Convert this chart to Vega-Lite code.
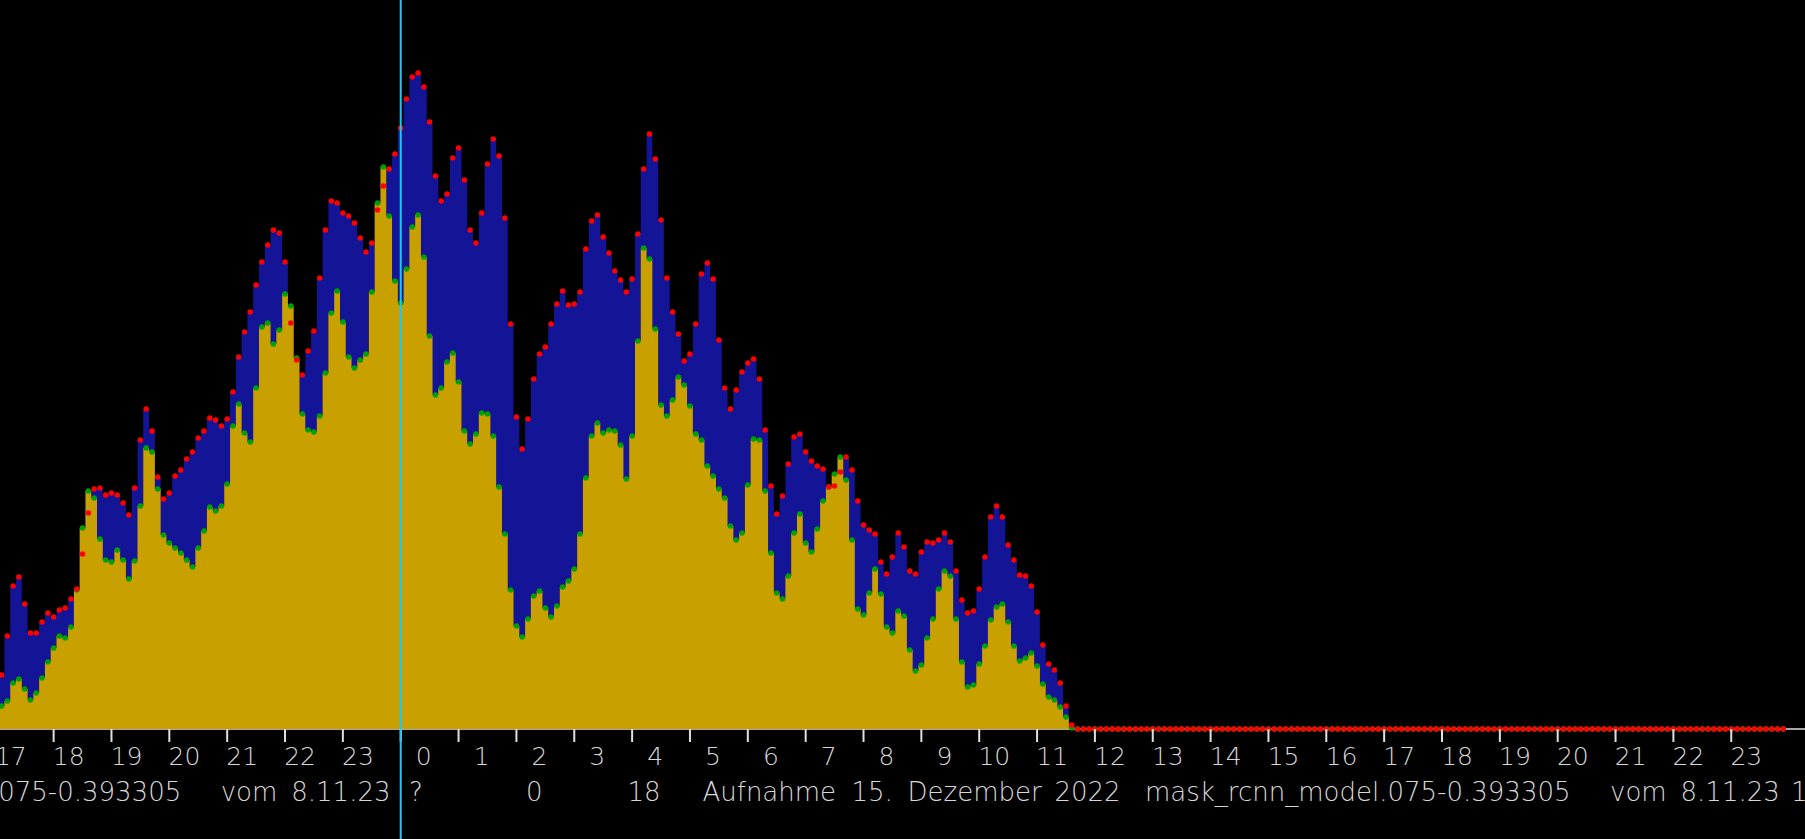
{
  "$schema": "https://vega.github.io/schema/vega-lite/v6.json",
  "width": 1805,
  "height": 839,
  "autosize": {"type": "none"},
  "padding": 0,
  "background": "#000000",
  "config": {"view": {"stroke": null}},
  "datasets": {
    "counts": [
      {"t":17.0,"r":54,"g":23},{"t":17.1,"r":54,"g":23},{"t":17.2,"r":93,"g":28},{"t":17.3,"r":143,"g":46},{"t":17.4,"r":152,"g":50},
      {"t":17.5,"r":125,"g":40},{"t":17.6,"r":96,"g":29},{"t":17.7,"r":96,"g":36},{"t":17.8,"r":107,"g":51},{"t":17.9,"r":116,"g":67},
      {"t":18.0,"r":112,"g":81},{"t":18.1,"r":119,"g":93},{"t":18.2,"r":121,"g":91},{"t":18.3,"r":130,"g":102},{"t":18.4,"r":140,"g":139},
      {"t":18.5,"r":175,"g":201},{"t":18.6,"r":216,"g":238},{"t":18.7,"r":240,"g":231},{"t":18.8,"r":241,"g":190},{"t":18.9,"r":234,"g":169},
      {"t":19.0,"r":236,"g":167},{"t":19.1,"r":234,"g":179},{"t":19.2,"r":226,"g":169},{"t":19.3,"r":214,"g":150},{"t":19.4,"r":241,"g":168},
      {"t":19.5,"r":289,"g":223},{"t":19.6,"r":320,"g":281},{"t":19.7,"r":298,"g":277},{"t":19.8,"r":252,"g":240},{"t":19.9,"r":230,"g":194},
      {"t":20.0,"r":236,"g":186},{"t":20.1,"r":253,"g":181},{"t":20.2,"r":259,"g":176},{"t":20.3,"r":270,"g":169},{"t":20.4,"r":277,"g":162},
      {"t":20.5,"r":291,"g":181},{"t":20.6,"r":298,"g":198},{"t":20.7,"r":311,"g":222},{"t":20.8,"r":309,"g":218},{"t":20.9,"r":303,"g":223},
      {"t":21.0,"r":310,"g":245},{"t":21.1,"r":337,"g":303},{"t":21.2,"r":372,"g":325},{"t":21.3,"r":397,"g":296},{"t":21.4,"r":417,"g":287},
      {"t":21.5,"r":444,"g":341},{"t":21.6,"r":467,"g":402},{"t":21.7,"r":484,"g":406},{"t":21.8,"r":499,"g":385},{"t":21.9,"r":496,"g":399},
      {"t":22.0,"r":467,"g":435},{"t":22.1,"r":406,"g":423},{"t":22.2,"r":369,"g":371},{"t":22.3,"r":354,"g":315},{"t":22.4,"r":378,"g":299},
      {"t":22.5,"r":398,"g":297},{"t":22.6,"r":451,"g":313},{"t":22.7,"r":499,"g":356},{"t":22.8,"r":528,"g":416},{"t":22.9,"r":526,"g":438},
      {"t":23.0,"r":516,"g":407},{"t":23.1,"r":513,"g":372},{"t":23.2,"r":506,"g":361},{"t":23.3,"r":491,"g":369},{"t":23.4,"r":477,"g":375},
      {"t":23.5,"r":486,"g":437},{"t":23.6,"r":519,"g":526},{"t":23.7,"r":543,"g":562},{"t":23.8,"r":560,"g":513},{"t":23.9,"r":575,"g":448},
      {"t":24.0,"r":601,"g":426},{"t":24.1,"r":630,"g":460},{"t":24.2,"r":652,"g":502},{"t":24.3,"r":656,"g":514},{"t":24.4,"r":642,"g":472},
      {"t":24.5,"r":607,"g":393},{"t":24.6,"r":553,"g":334},{"t":24.7,"r":528,"g":341},{"t":24.8,"r":535,"g":367},{"t":24.9,"r":571,"g":376},
      {"t":25.0,"r":581,"g":347},{"t":25.1,"r":549,"g":298},{"t":25.2,"r":499,"g":285},{"t":25.3,"r":486,"g":295},{"t":25.4,"r":516,"g":316},
      {"t":25.5,"r":565,"g":315},{"t":25.6,"r":590,"g":293},{"t":25.7,"r":573,"g":242},{"t":25.8,"r":511,"g":195},{"t":25.9,"r":405,"g":139},
      {"t":26.0,"r":312,"g":103},{"t":26.1,"r":280,"g":92},{"t":26.2,"r":310,"g":110},{"t":26.3,"r":350,"g":133},{"t":26.4,"r":375,"g":138},
      {"t":26.5,"r":382,"g":121},{"t":26.6,"r":405,"g":112},{"t":26.7,"r":425,"g":123},{"t":26.8,"r":438,"g":142},{"t":26.9,"r":424,"g":148},
      {"t":27.0,"r":425,"g":160},{"t":27.1,"r":437,"g":195},{"t":27.2,"r":480,"g":251},{"t":27.3,"r":508,"g":293},{"t":27.4,"r":514,"g":306},
      {"t":27.5,"r":492,"g":296},{"t":27.6,"r":476,"g":299},{"t":27.7,"r":458,"g":298},{"t":27.8,"r":449,"g":284},{"t":27.9,"r":437,"g":250},
      {"t":28.0,"r":450,"g":293},{"t":28.1,"r":495,"g":388},{"t":28.2,"r":560,"g":481},{"t":28.3,"r":595,"g":470},{"t":28.4,"r":570,"g":400},
      {"t":28.5,"r":509,"g":324},{"t":28.6,"r":451,"g":313},{"t":28.7,"r":417,"g":329},{"t":28.8,"r":395,"g":352},{"t":28.9,"r":368,"g":344},
      {"t":29.0,"r":375,"g":323},{"t":29.1,"r":405,"g":295},{"t":29.2,"r":455,"g":289},{"t":29.3,"r":466,"g":263},{"t":29.4,"r":450,"g":253},
      {"t":29.5,"r":389,"g":240},{"t":29.6,"r":341,"g":231},{"t":29.7,"r":320,"g":203},{"t":29.8,"r":339,"g":189},{"t":29.9,"r":357,"g":196},
      {"t":30.0,"r":366,"g":244},{"t":30.1,"r":370,"g":290},{"t":30.2,"r":350,"g":289},{"t":30.3,"r":299,"g":238},{"t":30.4,"r":243,"g":176},
      {"t":30.5,"r":215,"g":136},{"t":30.6,"r":233,"g":130},{"t":30.7,"r":265,"g":153},{"t":30.8,"r":292,"g":196},{"t":30.9,"r":295,"g":215},
      {"t":31.0,"r":277,"g":186},{"t":31.1,"r":268,"g":177},{"t":31.2,"r":263,"g":200},{"t":31.3,"r":260,"g":228},{"t":31.4,"r":242,"g":242},
      {"t":31.5,"r":243,"g":255},{"t":31.6,"r":257,"g":272},{"t":31.7,"r":272,"g":249},{"t":31.8,"r":259,"g":189},{"t":31.9,"r":228,"g":120},
      {"t":32.0,"r":204,"g":114},{"t":32.1,"r":199,"g":136},{"t":32.2,"r":195,"g":160},{"t":32.3,"r":167,"g":135},{"t":32.4,"r":155,"g":102},
      {"t":32.5,"r":172,"g":96},{"t":32.6,"r":196,"g":118},{"t":32.7,"r":182,"g":113},{"t":32.8,"r":158,"g":79},{"t":32.9,"r":155,"g":58},
      {"t":33.0,"r":177,"g":64},{"t":33.1,"r":187,"g":91},{"t":33.2,"r":186,"g":110},{"t":33.3,"r":189,"g":140},{"t":33.4,"r":196,"g":158},
      {"t":33.5,"r":187,"g":153},{"t":33.6,"r":158,"g":110},{"t":33.7,"r":129,"g":67},{"t":33.8,"r":116,"g":42},{"t":33.9,"r":118,"g":44},
      {"t":34.0,"r":140,"g":65},{"t":34.1,"r":172,"g":83},{"t":34.2,"r":212,"g":109},{"t":34.3,"r":223,"g":122},{"t":34.4,"r":212,"g":125},
      {"t":34.5,"r":184,"g":107},{"t":34.6,"r":169,"g":83},{"t":34.7,"r":154,"g":68},{"t":34.8,"r":153,"g":71},{"t":34.9,"r":143,"g":76},
      {"t":35.0,"r":117,"g":63},{"t":35.1,"r":84,"g":45},{"t":35.2,"r":65,"g":32},{"t":35.3,"r":59,"g":29},{"t":35.4,"r":46,"g":22},
      {"t":35.5,"r":23,"g":12},{"t":35.6,"r":4,"g":1},{"t":35.7,"r":0,"g":0},{"t":35.8,"r":0,"g":0},{"t":35.9,"r":0,"g":0},
      {"t":36.0,"r":0,"g":0},{"t":36.1,"r":0,"g":0},{"t":36.2,"r":0,"g":0},{"t":36.3,"r":0,"g":0},{"t":36.4,"r":0,"g":0},
      {"t":36.5,"r":0,"g":0},{"t":36.6,"r":0,"g":0},{"t":36.7,"r":0,"g":0},{"t":36.8,"r":0,"g":0},{"t":36.9,"r":0,"g":0},
      {"t":37.0,"r":0,"g":0},{"t":37.1,"r":0,"g":0},{"t":37.2,"r":0,"g":0},{"t":37.3,"r":0,"g":0},{"t":37.4,"r":0,"g":0},
      {"t":37.5,"r":0,"g":0},{"t":37.6,"r":0,"g":0},{"t":37.7,"r":0,"g":0},{"t":37.8,"r":0,"g":0},{"t":37.9,"r":0,"g":0},
      {"t":38.0,"r":0,"g":0},{"t":38.1,"r":0,"g":0},{"t":38.2,"r":0,"g":0},{"t":38.3,"r":0,"g":0},{"t":38.4,"r":0,"g":0},
      {"t":38.5,"r":0,"g":0},{"t":38.6,"r":0,"g":0},{"t":38.7,"r":0,"g":0},{"t":38.8,"r":0,"g":0},{"t":38.9,"r":0,"g":0},
      {"t":39.0,"r":0,"g":0},{"t":39.1,"r":0,"g":0},{"t":39.2,"r":0,"g":0},{"t":39.3,"r":0,"g":0},{"t":39.4,"r":0,"g":0},
      {"t":39.5,"r":0,"g":0},{"t":39.6,"r":0,"g":0},{"t":39.7,"r":0,"g":0},{"t":39.8,"r":0,"g":0},{"t":39.9,"r":0,"g":0},
      {"t":40.0,"r":0,"g":0},{"t":40.1,"r":0,"g":0},{"t":40.2,"r":0,"g":0},{"t":40.3,"r":0,"g":0},{"t":40.4,"r":0,"g":0},
      {"t":40.5,"r":0,"g":0},{"t":40.6,"r":0,"g":0},{"t":40.7,"r":0,"g":0},{"t":40.8,"r":0,"g":0},{"t":40.9,"r":0,"g":0},
      {"t":41.0,"r":0,"g":0},{"t":41.1,"r":0,"g":0},{"t":41.2,"r":0,"g":0},{"t":41.3,"r":0,"g":0},{"t":41.4,"r":0,"g":0},
      {"t":41.5,"r":0,"g":0},{"t":41.6,"r":0,"g":0},{"t":41.7,"r":0,"g":0},{"t":41.8,"r":0,"g":0},{"t":41.9,"r":0,"g":0},
      {"t":42.0,"r":0,"g":0},{"t":42.1,"r":0,"g":0},{"t":42.2,"r":0,"g":0},{"t":42.3,"r":0,"g":0},{"t":42.4,"r":0,"g":0},
      {"t":42.5,"r":0,"g":0},{"t":42.6,"r":0,"g":0},{"t":42.7,"r":0,"g":0},{"t":42.8,"r":0,"g":0},{"t":42.9,"r":0,"g":0},
      {"t":43.0,"r":0,"g":0},{"t":43.1,"r":0,"g":0},{"t":43.2,"r":0,"g":0},{"t":43.3,"r":0,"g":0},{"t":43.4,"r":0,"g":0},
      {"t":43.5,"r":0,"g":0},{"t":43.6,"r":0,"g":0},{"t":43.7,"r":0,"g":0},{"t":43.8,"r":0,"g":0},{"t":43.9,"r":0,"g":0},
      {"t":44.0,"r":0,"g":0},{"t":44.1,"r":0,"g":0},{"t":44.2,"r":0,"g":0},{"t":44.3,"r":0,"g":0},{"t":44.4,"r":0,"g":0},
      {"t":44.5,"r":0,"g":0},{"t":44.6,"r":0,"g":0},{"t":44.7,"r":0,"g":0},{"t":44.8,"r":0,"g":0},{"t":44.9,"r":0,"g":0},
      {"t":45.0,"r":0,"g":0},{"t":45.1,"r":0,"g":0},{"t":45.2,"r":0,"g":0},{"t":45.3,"r":0,"g":0},{"t":45.4,"r":0,"g":0},
      {"t":45.5,"r":0,"g":0},{"t":45.6,"r":0,"g":0},{"t":45.7,"r":0,"g":0},{"t":45.8,"r":0,"g":0},{"t":45.9,"r":0,"g":0},
      {"t":46.0,"r":0,"g":0},{"t":46.1,"r":0,"g":0},{"t":46.2,"r":0,"g":0},{"t":46.3,"r":0,"g":0},{"t":46.4,"r":0,"g":0},
      {"t":46.5,"r":0,"g":0},{"t":46.6,"r":0,"g":0},{"t":46.7,"r":0,"g":0},{"t":46.8,"r":0,"g":0},{"t":46.9,"r":0,"g":0},
      {"t":47.0,"r":0,"g":0},{"t":47.1,"r":0,"g":0},{"t":47.2,"r":0,"g":0},{"t":47.3,"r":0,"g":0},{"t":47.4,"r":0,"g":0},
      {"t":47.5,"r":0,"g":0},{"t":47.6,"r":0,"g":0},{"t":47.7,"r":0,"g":0},{"t":47.8,"r":0,"g":0},{"t":47.9,"r":0,"g":0}
    ],
    "hours": [
      {"h":17,"lab":"17"},{"h":18,"lab":"18"},{"h":19,"lab":"19"},{"h":20,"lab":"20"},{"h":21,"lab":"21"},{"h":22,"lab":"22"},
      {"h":23,"lab":"23"},{"h":24,"lab":"0"},{"h":25,"lab":"1"},{"h":26,"lab":"2"},{"h":27,"lab":"3"},{"h":28,"lab":"4"},
      {"h":29,"lab":"5"},{"h":30,"lab":"6"},{"h":31,"lab":"7"},{"h":32,"lab":"8"},{"h":33,"lab":"9"},{"h":34,"lab":"10"},
      {"h":35,"lab":"11"},{"h":36,"lab":"12"},{"h":37,"lab":"13"},{"h":38,"lab":"14"},{"h":39,"lab":"15"},{"h":40,"lab":"16"},
      {"h":41,"lab":"17"},{"h":42,"lab":"18"},{"h":43,"lab":"19"},{"h":44,"lab":"20"},{"h":45,"lab":"21"},{"h":46,"lab":"22"},
      {"h":47,"lab":"23"}
    ],
    "notes": [
      {"x":12.85,"txt":"mask_rcnn_model.075-0.393305"},{"x":20.888,"txt":"vom"},{"x":22.108,"txt":"8.11.23"},
      {"x":24.143,"txt":"?"},{"x":26.166,"txt":"0"},{"x":27.92,"txt":"18"},
      {"x":29.216,"txt":"Aufnahme"},{"x":31.792,"txt":"15."},{"x":32.76,"txt":"Dezember"},{"x":35.3,"txt":"2022"},
      {"x":36.866,"txt":"mask_rcnn_model.075-0.393305"},{"x":44.904,"txt":"vom"},{"x":46.124,"txt":"8.11.23"},{"x":48.033,"txt":"1"}
    ]
  },
  "layer": [
    {
      "data": {"values": [{"b": 0}]},
      "mark": {"type": "rule", "color": "#e0e0e0", "strokeWidth": 1.5},
      "encoding": {
        "y": {"field": "b", "type": "quantitative", "scale": {"domain": [-110, 729], "nice": false, "zero": false}, "axis": null}
      }
    },
    {
      "data": {"name": "counts"},
      "mark": {"type": "area", "interpolate": "step", "color": "#141496"},
      "encoding": {
        "x": {"field": "t", "type": "quantitative", "scale": {"domain": [17.073, 48.275], "nice": false, "zero": false}, "axis": null},
        "y": {"field": "r", "type": "quantitative", "scale": {"domain": [-110, 729], "nice": false, "zero": false}, "axis": null},
        "y2": {"datum": 0}
      }
    },
    {
      "data": {"name": "counts"},
      "mark": {"type": "area", "interpolate": "step", "color": "#c8a000"},
      "encoding": {
        "x": {"field": "t", "type": "quantitative", "scale": {"domain": [17.073, 48.275], "nice": false, "zero": false}, "axis": null},
        "y": {"field": "g", "type": "quantitative", "scale": {"domain": [-110, 729], "nice": false, "zero": false}, "axis": null},
        "y2": {"datum": 0}
      }
    },
    {
      "data": {"name": "counts"},
      "mark": {"type": "circle", "color": "#00a000", "opacity": 1, "size": 30},
      "encoding": {
        "x": {"field": "t", "type": "quantitative", "scale": {"domain": [17.073, 48.275], "nice": false, "zero": false}, "axis": null},
        "y": {"field": "g", "type": "quantitative", "scale": {"domain": [-110, 729], "nice": false, "zero": false}, "axis": null}
      }
    },
    {
      "data": {"name": "counts"},
      "mark": {"type": "circle", "color": "#ff0000", "opacity": 1, "size": 30},
      "encoding": {
        "x": {"field": "t", "type": "quantitative", "scale": {"domain": [17.073, 48.275], "nice": false, "zero": false}, "axis": null},
        "y": {"field": "r", "type": "quantitative", "scale": {"domain": [-110, 729], "nice": false, "zero": false}, "axis": null}
      }
    },
    {
      "data": {"name": "hours"},
      "mark": {"type": "rule", "color": "#e0e0e0", "strokeWidth": 2},
      "encoding": {
        "x": {"field": "h", "type": "quantitative", "scale": {"domain": [17.073, 48.275], "nice": false, "zero": false}, "axis": null},
        "y": {"datum": 0, "type": "quantitative", "scale": {"domain": [-110, 729], "nice": false, "zero": false}, "axis": null},
        "y2": {"datum": -13}
      }
    },
    {
      "data": {"name": "hours"},
      "mark": {"type": "text", "align": "right", "baseline": "middle", "dx": 31, "font": "DejaVu Sans", "fontWeight": 200, "fontSize": 25, "color": "#d8d8d8"},
      "encoding": {
        "x": {"field": "h", "type": "quantitative", "scale": {"domain": [17.073, 48.275], "nice": false, "zero": false}, "axis": null},
        "y": {"datum": -28, "type": "quantitative", "scale": {"domain": [-110, 729], "nice": false, "zero": false}, "axis": null},
        "text": {"field": "lab"}
      }
    },
    {
      "data": {"name": "notes"},
      "mark": {"type": "text", "align": "left", "baseline": "middle", "font": "DejaVu Sans", "fontWeight": 200, "fontSize": 26, "color": "#d8d8d8"},
      "encoding": {
        "x": {"field": "x", "type": "quantitative", "scale": {"domain": [17.073, 48.275], "nice": false, "zero": false}, "axis": null},
        "y": {"datum": -64, "type": "quantitative", "scale": {"domain": [-110, 729], "nice": false, "zero": false}, "axis": null},
        "text": {"field": "txt"}
      }
    },
    {
      "data": {"values": [{"mid": 24}]},
      "mark": {"type": "rule", "color": "#1ec8f0", "strokeWidth": 2},
      "encoding": {
        "x": {"field": "mid", "type": "quantitative", "scale": {"domain": [17.073, 48.275], "nice": false, "zero": false}, "axis": null}
      }
    }
  ]
}
